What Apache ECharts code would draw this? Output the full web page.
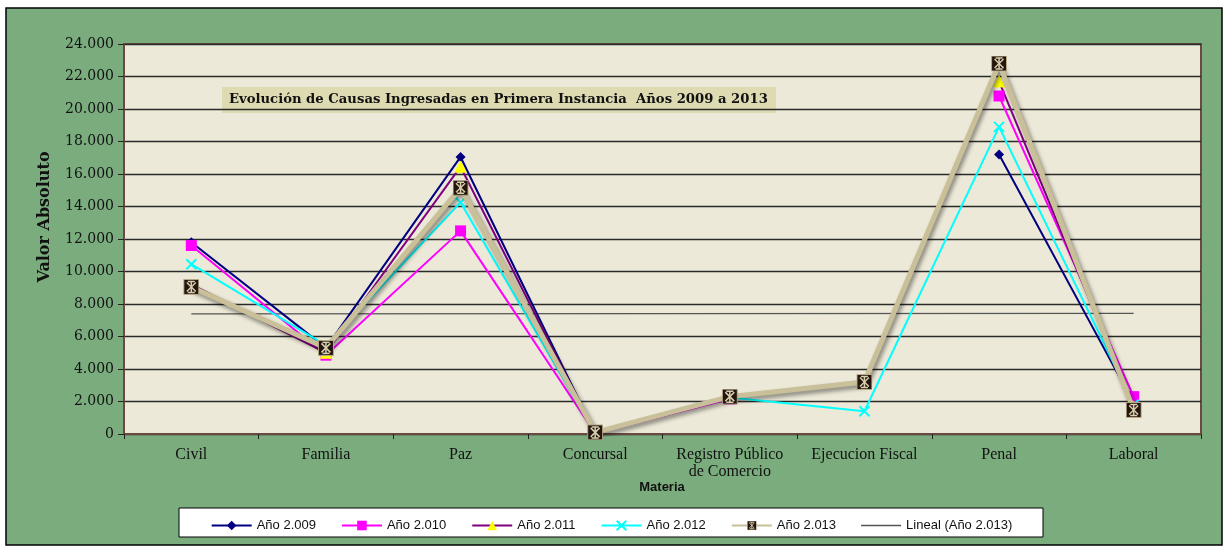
<!DOCTYPE html>
<html>
<head>
<meta charset="utf-8">
<script src="https://cdn.jsdelivr.net/npm/echarts@6/dist/echarts.min.js"></script>
<style>
html,body{margin:0;padding:0;background:#fff;}
#c{width:1223px;height:546px;}
</style>
</head>
<body>
<div id="c"></div>
<script>
const categories = ['Civil', 'Familia', 'Paz', 'Concursal', 'Registro Público\nde Comercio', 'Ejecucion Fiscal', 'Penal', 'Laboral'];
const y2009 = [11800, 5300, 17050, 50, null, null, 17200, 1900];
const y2010 = [11600, 4850, 12500, 50, 2150, null, 20800, 2300];
const y2011 = [9200, 5000, 16450, 50, null, null, 21700, 1700];
const y2012 = [10450, 5450, 14250, 50, 2250, 1400, 18900, 1800];
const y2013 = [9050, 5300, 15150, 100, 2300, 3200, 22800, 1480];
// trend line endpoints (Lineal (Año 2.013))
const trendStart = 7390;
const trendEnd = 7420;
const seriesNames = ['Año 2.009', 'Año 2.010', 'Año 2.011', 'Año 2.012', 'Año 2.013', 'Lineal (Año 2.013)'];
const yTicks = { min: 0, max: 24000, interval: 2000 };

const trend = categories.map((c, i) => i === 0 ? trendStart : (i === categories.length - 1 ? trendEnd : null));

const markerSvg = '<svg xmlns="http://www.w3.org/2000/svg" width="16" height="16" viewBox="0 0 16 16">' +
  '<rect x="0.5" y="0.5" width="15" height="15" fill="#24150e" stroke="#b8ad88" stroke-width="1"/>' +
  '<g stroke="#d8cfae" stroke-width="1.5">' +
  '<line x1="3.5" y1="3.5" x2="12.5" y2="12.5"/><line x1="12.5" y1="3.5" x2="3.5" y2="12.5"/>' +
  '<line x1="8" y1="2.5" x2="8" y2="13.5"/><line x1="4.5" y1="2.5" x2="11.5" y2="2.5"/><line x1="4.5" y1="13.5" x2="11.5" y2="13.5"/>' +
  '</g></svg>';
const markerImg = 'image://data:image/svg+xml;charset=utf-8,' + encodeURIComponent(markerSvg);

function fmt(v) {
  return String(v).replace(/\B(?=(\d{3})+(?!\d))/g, '.');
}

const chart = echarts.init(document.getElementById('c'), null, { renderer: 'canvas' });
chart.setOption({
  backgroundColor: '#ffffff',
  animation: false,
  graphic: [
    { type: 'rect', z: -10, shape: { x: 6, y: 8, width: 1216, height: 537 },
      style: { fill: '#7bac7e', stroke: '#000', lineWidth: 1.5 } },
    { type: 'group', z: 1, children: [
      { type: 'rect', shape: { x: 222, y: 87, width: 554, height: 26 }, style: { fill: '#dedbb3' } },
      { type: 'text', x: 229, y: 100, style: { text: 'Evolución de Causas Ingresadas en Primera Instancia  Años 2009 a 2013',
        font: 'bold 13.2px "DejaVu Serif"', fill: '#111', verticalAlign: 'middle' } }
    ]},
    { type: 'text', x: 45, y: 217, rotation: Math.PI / 2, z: 1,
      style: { text: 'Valor Absoluto', font: 'bold 16px "DejaVu Serif"', fill: '#111', align: 'center', verticalAlign: 'middle' } },
    { type: 'text', x: 662, y: 487, z: 1,
      style: { text: 'Materia', font: 'bold 13px "Liberation Sans"', fill: '#111', align: 'center', verticalAlign: 'middle' } },
    { type: 'rect', z: 1, shape: { x: 179, y: 508, width: 864, height: 29 },
      style: { fill: '#ffffff', stroke: '#000', lineWidth: 1 } }
  ],
  grid: { left: 124, right: 22, top: 44, bottom: 112, show: true, backgroundColor: '#ece9d8',
    borderColor: '#6a4a40', borderWidth: 2 },
  legend: {
    data: seriesNames.slice(0, 5).map(n => ({ name: n })).concat([
      { name: seriesNames[5], icon: 'path://M0,0L40,0L40,1.6L0,1.6Z' }
    ]),
    top: 514, left: 'center', z: 5,
    itemWidth: 40, itemHeight: 12, itemGap: 25, symbolKeepAspect: true,
    textStyle: { fontFamily: 'Liberation Sans', fontSize: 13, color: '#111' }
  },
  xAxis: {
    type: 'category', data: categories, boundaryGap: true,
    axisLine: { lineStyle: { color: '#6a4a40', width: 2 } },
    axisTick: { show: true, length: 5, interval: 0, lineStyle: { color: '#222' } },
    axisLabel: { interval: 0, hideOverlap: false, fontFamily: 'Liberation Serif', fontSize: 16, color: '#111', margin: 12, lineHeight: 17 }
  },
  yAxis: {
    type: 'value', min: yTicks.min, max: yTicks.max, interval: yTicks.interval,
    axisLine: { show: true, lineStyle: { color: '#6a4a40', width: 2 } },
    axisTick: { show: true, length: 6, lineStyle: { color: '#222' } },
    axisLabel: { fontFamily: 'DejaVu Serif', fontSize: 14, color: '#111', margin: 10, formatter: v => fmt(v) },
    splitLine: { show: true, lineStyle: { color: '#2a2a2a', width: 1.3 } }
  },
  series: [
    { name: seriesNames[5], type: 'line', data: trend, connectNulls: true, symbol: 'none', z: 1,
      lineStyle: { color: '#555', width: 1.3 }, itemStyle: { color: '#555' } },
    { name: seriesNames[0], type: 'line', data: y2009, symbol: 'diamond', symbolSize: 10, z: 3,
      lineStyle: { color: '#000080', width: 2 }, itemStyle: { color: '#000080' } },
    { name: seriesNames[1], type: 'line', data: y2010, symbol: 'rect', symbolSize: 11, z: 3,
      lineStyle: { color: '#ff00ff', width: 2 }, itemStyle: { color: '#ff00ff' } },
    { name: seriesNames[2], type: 'line', data: y2011, symbol: 'triangle', symbolSize: 11, z: 3,
      lineStyle: { color: '#800080', width: 2 }, itemStyle: { color: '#ffff00', borderColor: '#ffff00' } },
    { name: seriesNames[3], type: 'line', data: y2012, symbol: 'path://M0,0L10,10M10,0L0,10', symbolSize: 10, z: 3,
      lineStyle: { color: '#00ffff', width: 2 }, itemStyle: { color: '#00ffff', borderColor: '#00ffff', borderWidth: 2 } },
    { name: seriesNames[4], type: 'line', data: y2013, symbol: markerImg, symbolSize: 16, z: 4,
      lineStyle: { color: '#c9bf98', width: 5, shadowColor: 'rgba(0,0,0,0.45)', shadowBlur: 4, shadowOffsetX: 2, shadowOffsetY: 3 },
      itemStyle: { color: '#c9bf98' } }
  ]
});
</script>
</body>
</html>
